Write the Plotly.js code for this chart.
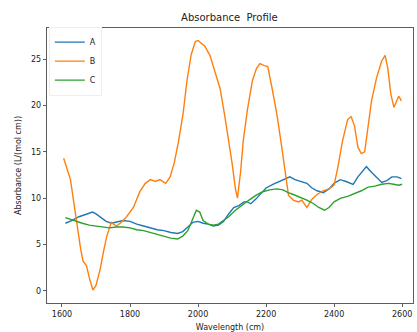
<!DOCTYPE html>
<html><head><meta charset="utf-8">
<script src="https://cdn.plot.ly/plotly-3.0.1.min.js"></script>
<style>html,body{margin:0;padding:0;background:#fff}#chart{width:417px;height:332px}</style>
</head><body><div id="chart"></div>
<script>
const seriesNames = ["A", "B", "C"];
const xA = [1610,1630,1650,1665,1680,1690,1700,1715,1730,1745,1760,1780,1800,1820,1840,1860,1880,1900,1920,1940,1955,1970,1985,2000,2015,2030,2045,2060,2075,2090,2105,2120,2135,2145,2155,2170,2185,2200,2220,2240,2255,2270,2285,2300,2320,2335,2350,2368,2385,2400,2418,2435,2456,2470,2485,2495,2510,2525,2540,2555,2570,2585,2598];
const yA = [7.3,7.6,8.0,8.2,8.4,8.5,8.3,7.9,7.5,7.3,7.4,7.6,7.5,7.2,7.0,6.8,6.6,6.5,6.3,6.2,6.4,6.9,7.4,7.5,7.3,7.2,7.0,7.1,7.5,8.3,9.0,9.2,9.6,9.6,9.4,9.9,10.5,11.1,11.5,11.8,12.1,12.3,12.0,11.8,11.6,11.1,10.8,10.6,11.0,11.6,12.0,11.8,11.5,12.3,13.0,13.4,12.8,12.2,11.7,11.9,12.3,12.3,12.1];
const xB = [1605,1615,1625,1635,1645,1655,1662,1672,1682,1691,1700,1712,1722,1731,1745,1760,1775,1790,1810,1829,1845,1860,1875,1888,1905,1918,1930,1942,1956,1968,1980,1992,2000,2010,2020,2035,2050,2065,2078,2090,2100,2110,2116,2125,2133,2145,2160,2172,2182,2195,2205,2218,2232,2245,2256,2266,2280,2295,2305,2320,2335,2350,2368,2385,2400,2412,2425,2440,2450,2460,2470,2480,2490,2500,2510,2525,2540,2550,2558,2567,2576,2583,2590,2598];
const yB = [14.3,13.2,12.0,9.5,6.8,4.5,3.2,2.7,1.2,0.1,0.6,2.3,4.2,5.8,7.4,7.0,7.4,8.0,9.0,10.7,11.6,12.0,11.8,12.0,11.6,12.3,13.8,16.0,19.1,22.8,25.5,26.9,27.0,26.7,26.4,25.4,23.5,21.8,19.0,16.3,13.8,11.0,10.0,12.8,16.2,19.5,22.7,24.0,24.5,24.3,24.2,21.8,19.0,15.8,12.6,10.3,9.8,9.6,9.8,9.0,9.9,10.4,10.8,11.0,11.4,13.5,16.2,18.5,18.8,17.8,15.5,14.8,15.0,17.5,20.5,23.0,24.8,25.4,24.0,21.2,19.8,20.4,21.0,20.5];
const xC = [1610,1625,1640,1660,1680,1700,1720,1740,1760,1780,1800,1820,1840,1860,1880,1900,1920,1940,1955,1970,1985,1995,2005,2015,2030,2045,2060,2075,2090,2110,2130,2150,2170,2190,2210,2232,2250,2265,2280,2300,2320,2340,2355,2372,2385,2400,2420,2440,2460,2480,2500,2520,2540,2560,2575,2590,2600];
const yC = [7.9,7.7,7.5,7.3,7.1,7.0,6.9,6.8,6.9,6.9,6.8,6.6,6.5,6.3,6.1,5.9,5.7,5.6,5.9,6.5,7.8,8.7,8.5,7.6,7.2,7.1,7.2,7.6,8.0,8.7,9.3,9.8,10.3,10.7,10.9,11.0,10.9,10.6,10.4,10.1,9.8,9.4,9.0,8.7,9.0,9.6,10.0,10.2,10.5,10.8,11.2,11.3,11.5,11.6,11.5,11.4,11.5];
const xTicks = [1600, 1800, 2000, 2200, 2400, 2600];
const yTicks = [0, 5, 10, 15, 20, 25];
const colors = ["#1f77b4", "#ff7f0e", "#2ca02c"];
const xs = [xA, xB, xC], ys = [yA, yB, yC];

const traces = seriesNames.map((n, i) => ({
  x: xs[i], y: ys[i], name: n, type: "scatter", mode: "lines",
  line: {color: colors[i], width: 1.4}
}));

const axisCommon = {
  showgrid: false, zeroline: false, showline: true, mirror: true,
  linecolor: "#333", linewidth: 0.8, ticks: "outside", ticklen: 3.5,
  tickwidth: 0.8, tickcolor: "#333",
  tickfont: {family: "DejaVu Sans", size: 8, color: "#222"}
};

const layout = {
  width: 417, height: 332,
  margin: {l: 47, r: 4, t: 28, b: 29},
  paper_bgcolor: "#fff", plot_bgcolor: "#fff",
  title: {text: "Absorbance  Profile", x: 0.55, xanchor: "center", y: 0.948, yanchor: "middle",
          font: {family: "DejaVu Sans", size: 10, color: "#222"}},
  xaxis: Object.assign({}, axisCommon, {
    range: [1556, 2632], tickvals: xTicks, ticktext: xTicks.map(String),
    title: {text: "Wavelength (cm)", standoff: 6, font: {family: "DejaVu Sans", size: 8, color: "#222"}}
  }),
  yaxis: Object.assign({}, axisCommon, {
    range: [-1.3, 28.35], tickvals: yTicks, ticktext: yTicks.map(String),
    title: {text: "Absorbance (L/(mol cm))", standoff: 8, font: {family: "DejaVu Sans", size: 8, color: "#222"}}
  }),
  showlegend: true,
  legend: {x: 0.005, y: 1.005, xanchor: "left", yanchor: "top",
           bgcolor: "rgba(255,255,255,0.8)", bordercolor: "#eee", borderwidth: 1,
           font: {family: "DejaVu Sans", size: 8, color: "#222"},
           itemwidth: 30, tracegroupgap: 0}
};

Plotly.newPlot("chart", traces, layout, {displayModeBar: false, staticPlot: true});
</script></body></html>
